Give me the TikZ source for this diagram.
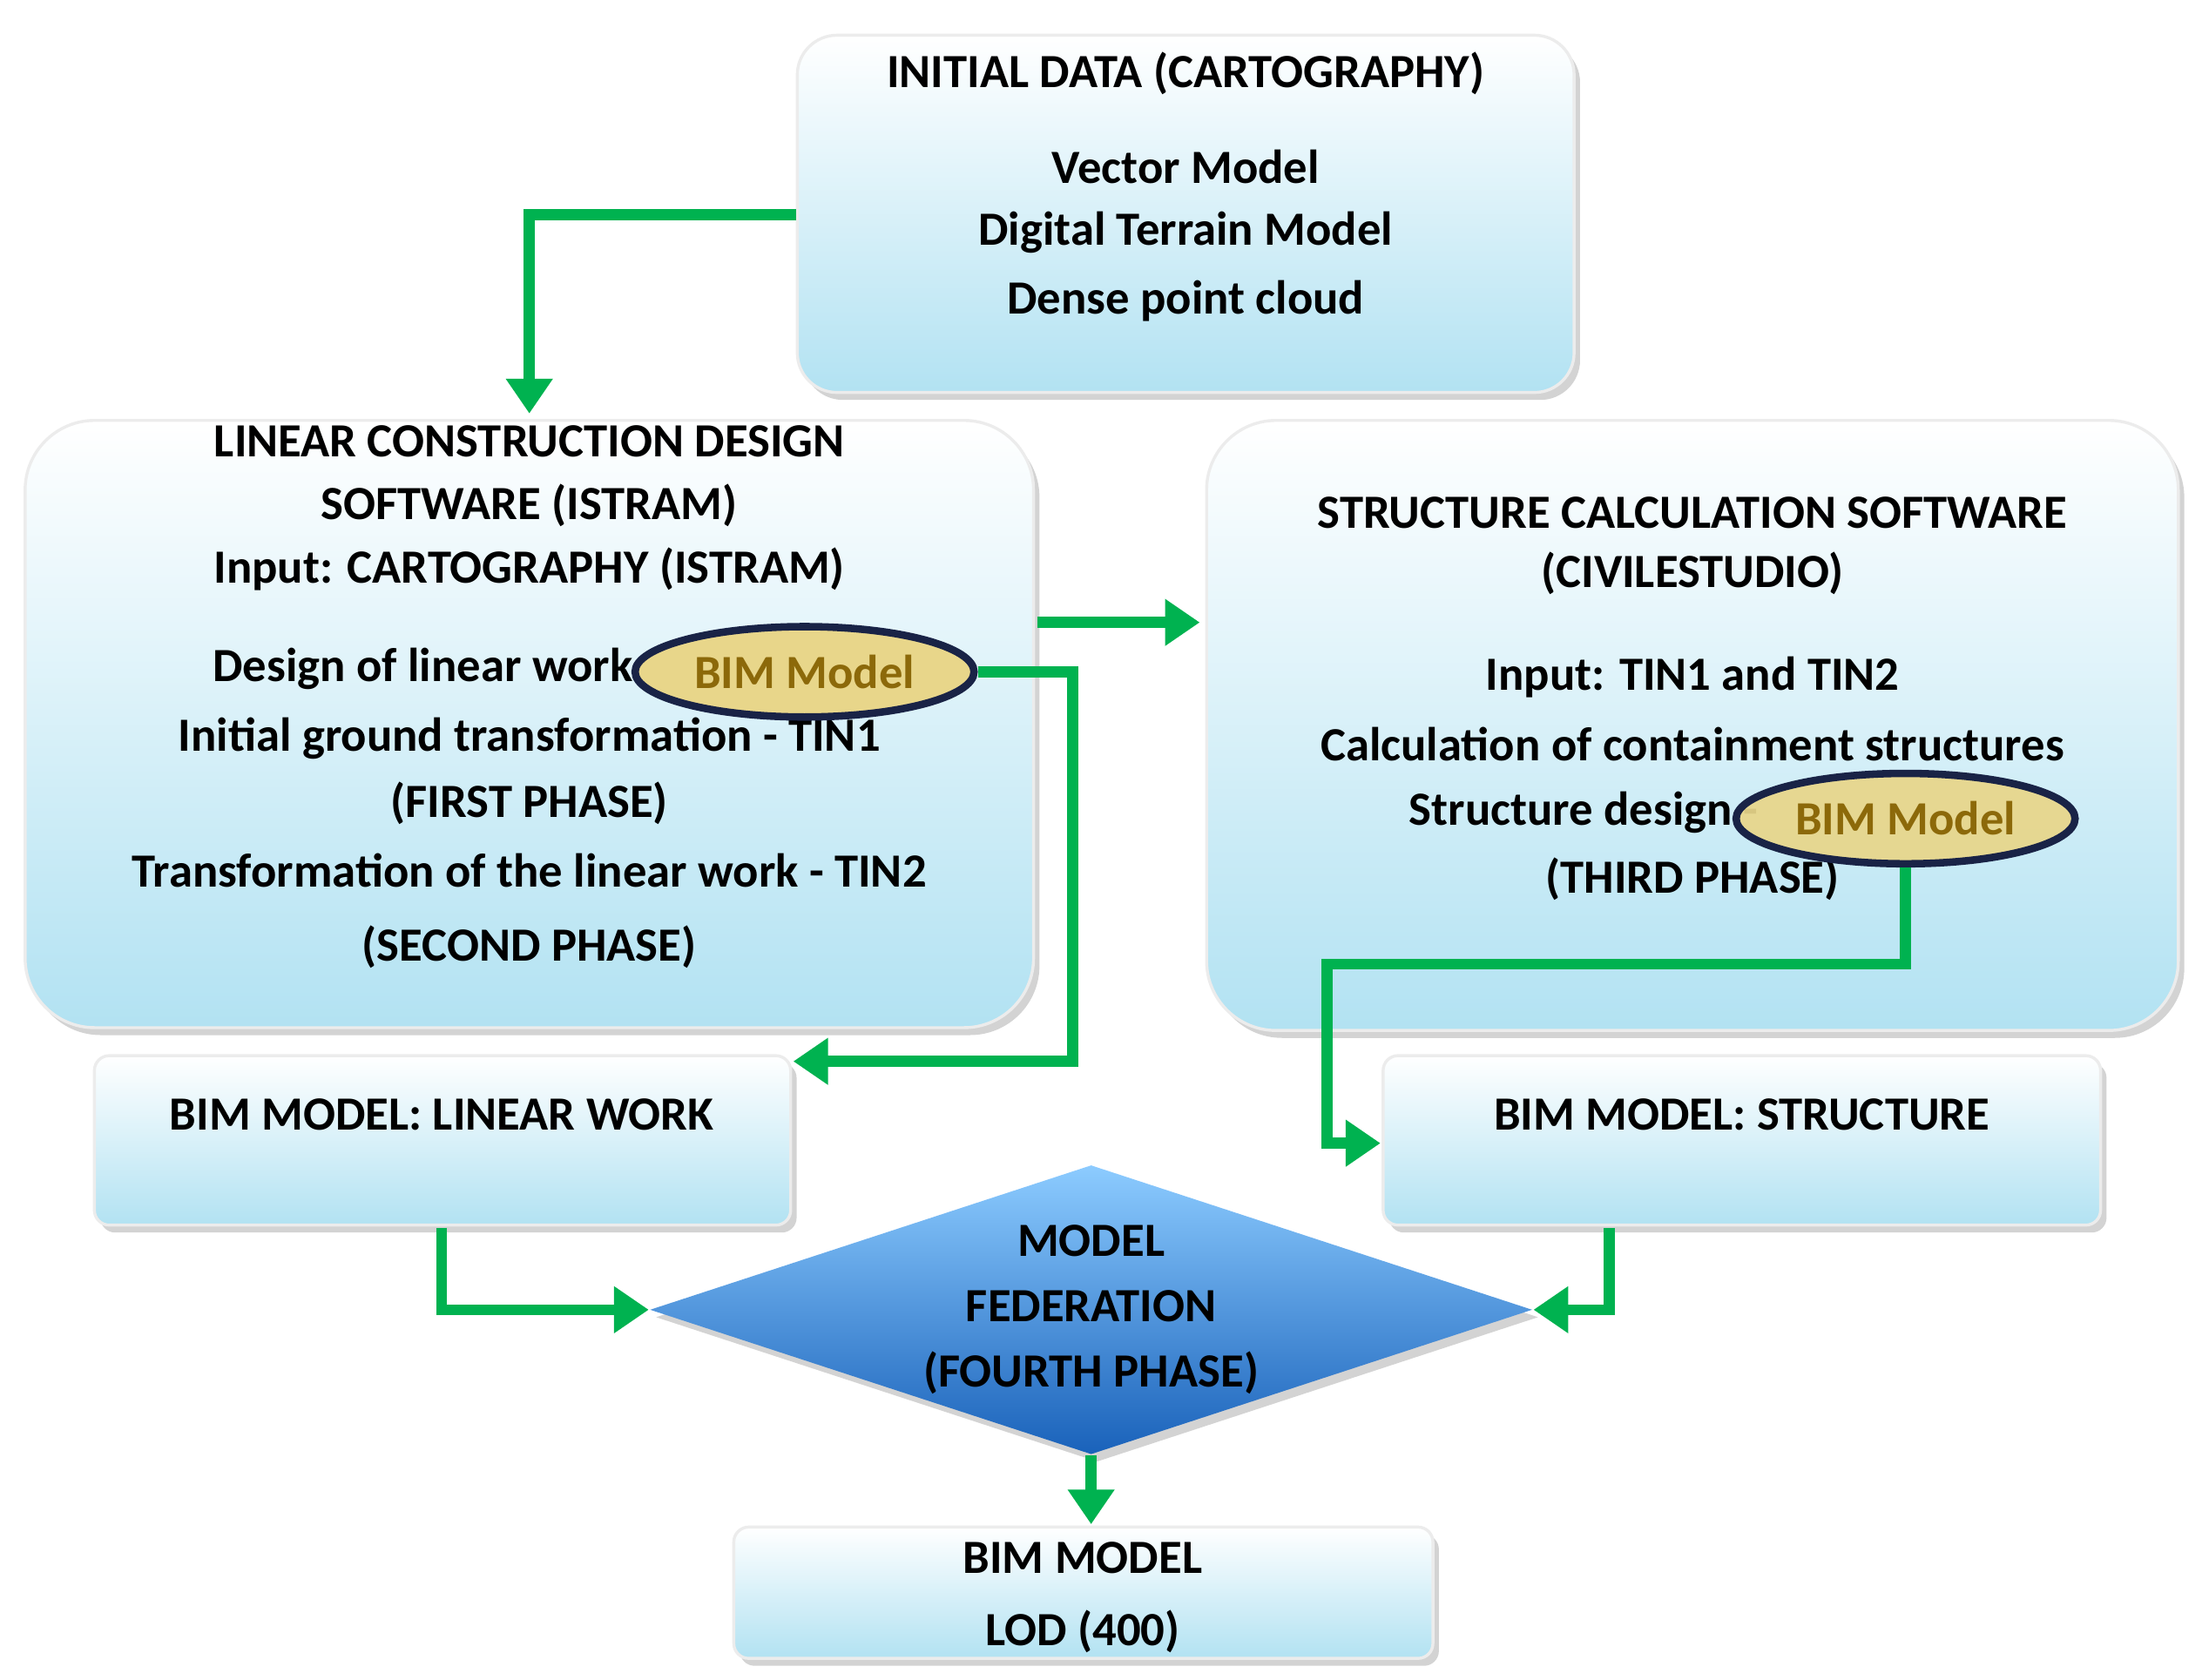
\documentclass[tikz,border=0pt]{standalone}
\usepackage{fontspec}
\setmainfont{Carlito}
\usetikzlibrary{shapes.geometric,shadows,arrows.meta}
\definecolor{grn}{RGB}{0,178,80}
\definecolor{lb}{RGB}{178,226,242}
\definecolor{navy}{RGB}{25,35,70}
\definecolor{ell}{RGB}{232,214,138}
\definecolor{olive}{RGB}{140,105,10}
\begin{document}
\begin{tikzpicture}[x=0.01cm,y=-0.01cm,
 box/.style={draw=white!85!gray,line width=0.6pt,top color=white,bottom color=lb,drop shadow={shadow xshift=1.2pt,shadow yshift=-1.5pt,opacity=0.35}},
 t/.style={font=\fontsize{9.6}{11}\selectfont\bfseries,inner sep=0pt},
 bim/.style={ellipse,draw=navy,line width=1.5pt,fill=ell,minimum width=2.4cm,minimum height=0.64cm,inner sep=0pt,font=\fontsize{9.6}{11}\selectfont\bfseries,text=olive},
 arr/.style={draw=grn,line width=2.2pt,-{Triangle[length=7pt,width=9pt]}}]
\useasboundingbox (0,0) rectangle (1560,1190);
% boxes
\node[box,rounded corners=8pt,minimum width=5.5cm,minimum height=2.53cm] (top) at (840,151.5) {};
\node[box,rounded corners=14pt,minimum width=7.14cm,minimum height=4.3cm] (left) at (375,513) {};
\node[box,rounded corners=14pt,minimum width=6.88cm,minimum height=4.32cm] (right) at (1199,514) {};
\node[box,rounded corners=3pt,minimum width=4.93cm,minimum height=1.2cm] (bl) at (313.5,808) {};
\node[box,rounded corners=3pt,minimum width=5.08cm,minimum height=1.2cm] (bs) at (1234,808) {};
\node[box,rounded corners=3pt,minimum width=4.95cm,minimum height=0.93cm] (lod) at (767.5,1128.5) {};
\node[diamond,aspect=3.05,minimum width=6.25cm,minimum height=2.05cm,inner sep=0pt,top color=cyan!55!blue!45,bottom color=blue!55!cyan!70!black!90,draw=none,drop shadow={shadow xshift=1.2pt,shadow yshift=-1.5pt,opacity=0.35}] (fed) at (773,928) {};
% texts top
\node[t] (t1) at (840,52) {INITIAL DATA (CARTOGRAPHY)};
\node[t] (t2) at (840,118) {Vector Model};
\node[t] (t3) at (840,165) {Digital Terrain Model};
\node[t] (t4) at (840,213) {Dense point cloud};
% left
\node[t] (l1) at (375,313) {LINEAR CONSTRUCTION DESIGN};
\node[t] (l2) at (375,358) {SOFTWARE (ISTRAM)};
\node[t] (l3) at (375,403) {Input: CARTOGRAPHY (ISTRAM)};
\node[t,anchor=east] (l4) at (467,474) {Design of linear work -};
\node[t] (l5) at (375,523) {Initial ground transformation - TIN1};
\node[t] (l6) at (375,569) {(FIRST PHASE)};
\node[t] (l7) at (375,617) {Transformation of the linear work - TIN2};
\node[t] (l8) at (375,671) {(SECOND PHASE)};
\node[bim] (e1) at (570,476) {BIM Model};
% right
\node[t] (r1) at (1199,363) {STRUCTURE CALCULATION SOFTWARE};
\node[t] (r2) at (1199,406) {(CIVILESTUDIO)};
\node[t] (r3) at (1199,480) {Input: TIN1 and TIN2};
\node[t] (r4) at (1199,527) {Calculation of containment structures};
\node[t,anchor=east] (r5) at (1246,576) {Structure design -};
\node[t] (r6) at (1199,623) {(THIRD PHASE)};
\node[bim,fill opacity=0.93,text opacity=1] (e2) at (1350,580) {BIM Model};
% others
\node[t] (b1) at (313,790) {BIM MODEL: LINEAR WORK};
\node[t] (b2) at (1234,790) {BIM MODEL: STRUCTURE};
\node[t,align=center,font=\fontsize{9.6}{13.2}\selectfont\bfseries] (f) at (773,928) {MODEL\\FEDERATION\\(FOURTH PHASE)};
\node[t,align=center,font=\fontsize{9.6}{14.5}\selectfont\bfseries] (lt) at (767,1132) {BIM MODEL\\LOD (400)};
% connectors
\coordinate (c1) at (375,152);
\draw[arr] (top.west |- c1) -- (c1) -- (375,293);
\draw[arr] (735,441) -- (850,441);
\draw[arr] (e1.east) -- (760,476) -- (760,752) -- (562,752);
\draw[arr] (e2.south) -- (1350,683) -- (940,683) -- (940,810) -- (978,810);
\draw[arr] (313,870) -- (313,928) -- (fed.west);
\draw[arr] (1140,870) -- (1140,928) -- (fed.east);
\draw[arr] (fed.south) -- (773,1080);
\end{tikzpicture}
\end{document}
